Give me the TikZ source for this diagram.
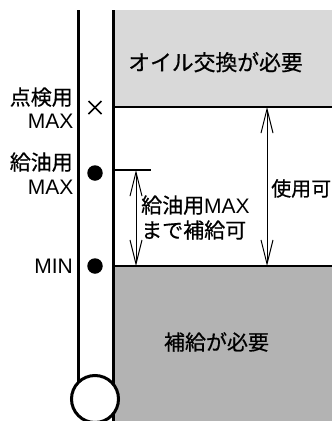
\documentclass[tikz,border=0pt]{standalone}
\usepackage{fontspec}
\setmainfont{Liberation Sans}
\newfontfamily\jpfont[FakeBold=0.6]{Noto Sans CJK JP}
\usetikzlibrary{arrows.meta,calc}
\definecolor{topgray}{RGB}{217,217,217}
\definecolor{botgray}{RGB}{179,179,179}
\tikzset{
  lbl/.style={inner sep=0pt, font=\fontsize{21}{24}\selectfont},
  stick/.style={line width=3pt},
  thin/.style={line width=1.3pt},
  dim/.style={line width=1pt, {Straight Barb[length=24pt,width=12pt]}-{Straight Barb[length=24pt,width=12pt]}},
  mark dot/.style={circle, fill=black, inner sep=0pt, minimum size=15.5pt}
}
\begin{document}
\begin{tikzpicture}[x=1pt,y=-1pt]
\useasboundingbox (0,0) rectangle (332,421);
% regions
\fill[topgray] (113,10) rectangle (332,107);
\fill[botgray] (113,266) rectangle (332,421);
\coordinate (tl) at (113,107);
\coordinate (tr) at (332,107);
\coordinate (bl) at (113,266);
\coordinate (br) at (332,266);
\coordinate (ml) at (113,170);
\coordinate (mr) at (151,170);
\draw[thin] (tl) -- (tr);
\draw[thin] (bl) -- (br);
\draw[thin] (ml) -- (mr);
% stick
\coordinate (s1t) at (78,10);
\coordinate (s1b) at (78,392);
\coordinate (s2t) at (113,10);
\coordinate (s2b) at (113,421);
\draw[stick] (s1t) -- (s1b);
\draw[stick] (s2t) -- (s2b);
\node[circle, draw=black, line width=3pt, fill=white, minimum size=47pt, inner sep=0pt] (bulb) at (95,399) {};
% marks
\node[mark dot] (d1) at (95,173) {};
\node[mark dot] (d2) at (95,266) {};
\coordinate (xc) at (95,107.5);
\draw[line width=1.7pt] ($(xc)+(-6.5,-6.5)$) -- ($(xc)+(6.5,6.5)$);
\draw[line width=1.7pt] ($(xc)+(-6.5,6.5)$) -- ($(xc)+(6.5,-6.5)$);
% arrows
\coordinate (a1t) at (136,170);
\coordinate (a1b) at (136,266);
\coordinate (a2t) at (267,107);
\coordinate (a2b) at (267,266);
\draw[dim] (a1t) -- (a1b);
\draw[dim] (a2t) -- (a2b);
% labels
\node[lbl, anchor=base east] (l1) at (73,105) {\jpfont 点検用};
\node[lbl, anchor=base east] (l2) at (73.5,128.5) {MAX};
\node[lbl, anchor=base east] (l3) at (73,170) {\jpfont 給油用};
\node[lbl, anchor=base east] (l4) at (73.5,194.5) {MAX};
\node[lbl, anchor=base east] (l5) at (73,273.5) {MIN};
\node[lbl, anchor=base, font=\fontsize{21.8}{24}\selectfont] (t1) at (215.5,70.5) {\jpfont オイル交換が必要};
\node[lbl, anchor=base] (t2) at (216.5,350) {\jpfont 補給が必要};
\node[lbl, anchor=base west] (m1) at (141,213) {\jpfont 給油用\rmfamily MAX};
\node[lbl, anchor=base west] (m2) at (141,238) {\jpfont まで補給可};
\node[lbl, anchor=base west, font=\fontsize{20}{24}\selectfont] (u1) at (271,196) {\jpfont 使用可};
\end{tikzpicture}
\end{document}
